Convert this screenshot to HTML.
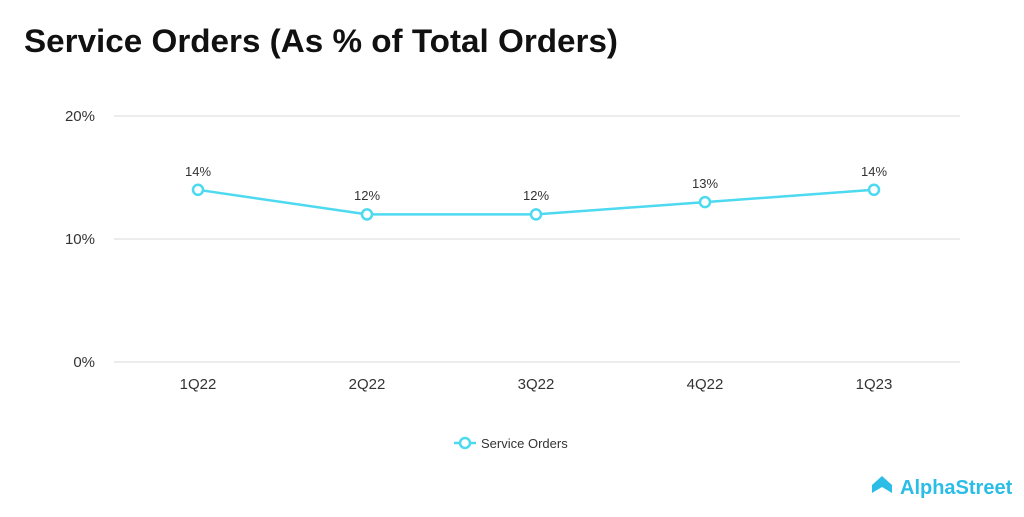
<!DOCTYPE html>
<html><head><style>
body{margin:0;background:#fff;width:1024px;height:512px;overflow:hidden;font-family:"Liberation Sans",sans-serif}
</style></head><body>
<svg width="1024" height="512" xmlns="http://www.w3.org/2000/svg" font-family="Liberation Sans, sans-serif">
<text x="24" y="52" font-size="32" font-weight="bold" fill="#111" textLength="594" lengthAdjust="spacingAndGlyphs">Service Orders (As % of Total Orders)</text>
<g stroke="#e6e6e6" stroke-width="1.5">
<line x1="114" y1="116" x2="960" y2="116"/>
<line x1="114" y1="239" x2="960" y2="239"/>
<line x1="114" y1="362" x2="960" y2="362"/>
</g>
<g font-size="15" fill="#333" text-anchor="end">
<text x="95" y="121">20%</text><text x="95" y="244">10%</text><text x="95" y="367">0%</text>
</g>
<g font-size="15" fill="#333" text-anchor="middle">
<text x="198" y="389">1Q22</text><text x="367" y="389">2Q22</text><text x="536" y="389">3Q22</text><text x="705" y="389">4Q22</text><text x="874" y="389">1Q23</text>
</g>
<polyline points="198,189.8 367,214.4 536,214.4 705,202.1 874,189.8" fill="none" stroke="#4dd9f0" stroke-width="2.5"/>
<g fill="#fff" stroke="#4dd9f0" stroke-width="2.5">
<circle cx="198" cy="189.8" r="5"/><circle cx="367" cy="214.4" r="5"/><circle cx="536" cy="214.4" r="5"/><circle cx="705" cy="202.1" r="5"/><circle cx="874" cy="189.8" r="5"/>
</g>
<g font-size="13" fill="#333" text-anchor="middle">
<text x="198" y="176">14%</text><text x="367" y="200">12%</text><text x="536" y="200">12%</text><text x="705" y="188">13%</text><text x="874" y="176">14%</text>
</g>
<line x1="454" y1="443" x2="476" y2="443" stroke="#4dd9f0" stroke-width="2.5"/>
<circle cx="465" cy="443" r="5" fill="#fff" stroke="#4dd9f0" stroke-width="2.5"/>
<text x="481" y="448" font-size="13" fill="#333">Service Orders</text>
<path d="M872,485 L882,476 L892,485 L892,493 L882,487 L872,493 Z" fill="#2bbde6"/>
<text x="900" y="494" font-size="20" font-weight="bold" fill="#2bbde6">AlphaStreet</text>
</svg>
</body></html>
